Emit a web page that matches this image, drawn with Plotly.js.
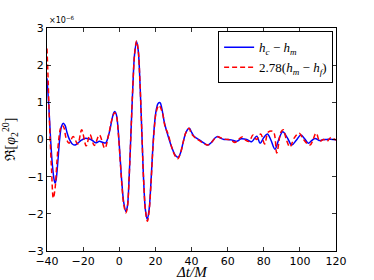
<!DOCTYPE html>
<html>
<head>
<meta charset="utf-8">
<script src="https://cdn.plot.ly/plotly-3.0.1.min.js"></script>
<style>html,body{margin:0;padding:0;background:#fff;}#chart{width:374px;height:280px;}</style>
</head>
<body>
<div id="chart"></div>
<script>
// h_c - h_m (units of 1e-6)
const blueT = [-40,-39,-38,-37,-36,-35.5,-35,-34,-33,-32,-31,-30,-29,-28,-27,-26,-24.5,-23,-21,-19,-17,-15,-13,-11,-9,-7.5,-6,-5,-4,-3,-2.3,-1.5,-0.5,0.5,1.5,2.5,3.7,4.5,5.5,6.5,7.5,8.5,9.6,10.5,11.5,12.5,13.5,14.5,15.5,16.5,17.5,18.5,19.5,20.5,21.5,22.6,23.5,25,27,29,31,32.7,34,35.5,37,38.8,40,41.5,43,45,47,49,51,53,54.5,56,58,60,62,65,67.5,70.6,73.3,76.1,78,80,82,84,86.2,88.3,90.5,93,95.5,98,100.5,102.5,104.7,106.5,108.4,111.2,113,114.9,117,120];
const blueV = [1.65,0.9,0.0,-0.7,-1.1,-1.18,-1.1,-0.6,0.0,0.35,0.44,0.38,0.2,0.05,-0.05,-0.12,-0.15,-0.1,-0.02,0.03,0.02,-0.02,-0.09,-0.05,-0.08,-0.09,0.1,0.3,0.55,0.72,0.75,0.65,0.2,-0.5,-1.2,-1.7,-1.94,-1.8,-1.0,0.2,1.4,2.3,2.63,2.4,1.5,0.2,-1.1,-1.9,-2.15,-1.9,-1.2,-0.3,0.4,0.8,0.97,0.99,0.85,0.45,0.1,-0.2,-0.42,-0.48,-0.35,-0.05,0.2,0.3,0.2,0.08,0.03,-0.03,-0.1,-0.15,-0.08,0.04,0.08,0.04,0.0,0.0,-0.01,-0.05,0.02,0.0,-0.06,0.09,-0.1,0.05,0.15,-0.02,-0.26,0.0,0.21,0.05,-0.15,-0.02,0.12,0.03,-0.1,-0.03,0.03,-0.03,0.0,0.0,0.01,-0.01];
// 2.78 (h_m - h_f) (units of 1e-6)
const redT = [-40,-39.3,-38.5,-37.5,-36.5,-35.5,-34.5,-33.5,-32.5,-31.5,-30.5,-29.5,-27.8,-25.5,-23,-20.8,-18.3,-16.2,-13.8,-11,-8,-6,-4,-2.5,-1.5,-0.5,0.5,1.5,2.5,3.7,4.5,5.5,6.5,7.5,8.5,9.6,10.5,11.5,12.5,13.5,14.5,15.6,16.5,17.5,18.5,19.5,20.5,22,24,25.4,27,29,31,32.3,34,35.5,37,38.6,40,42,45,49,51,54,56,58,60,62,64,66,68,70,72,74,76,78.3,80.5,82.5,85.3,87.2,89.5,90.8,92.5,94.5,97,99.7,102,105.6,109,111,113,115,117,120];
const redV = [2.45,1.5,0.3,-0.8,-1.58,-1.3,-0.6,0.0,0.3,0.38,0.3,0.05,-0.1,0.08,-0.12,0.26,-0.17,0.13,-0.16,0.12,-0.24,0.1,0.55,0.72,0.62,0.15,-0.55,-1.25,-1.75,-1.97,-1.82,-1.0,0.2,1.4,2.3,2.65,2.4,1.5,0.2,-1.1,-1.9,-2.2,-1.95,-1.25,-0.35,0.35,0.75,0.92,0.7,0.34,0.15,-0.2,-0.45,-0.52,-0.35,-0.05,0.2,0.3,0.15,0.05,-0.05,-0.15,-0.08,0.07,0.05,0.01,0.0,-0.02,-0.08,0.0,0.07,-0.02,-0.05,0.12,0.0,0.15,-0.12,0.2,0.21,-0.36,0.2,0.26,0.0,-0.2,0.05,0.17,0.0,-0.15,0.17,-0.05,0.0,-0.05,0.05,-0.02,0.02];
const xTicks = [-40,-20,0,20,40,60,80,100,120];
const yTicks = [-3,-2,-1,0,1,2,3];
const blueName = '<i>h</i><sub><i>c</i></sub> − <i>h</i><sub><i>m</i></sub>';
const redName = '2.78(<i>h</i><sub><i>m</i></sub> − <i>h</i><sub><i>f</i></sub>)';

const traces = [
  {x: blueT, y: blueV, name: blueName, type: 'scatter', mode: 'lines',
   line: {color: '#0000ff', width: 1.5, shape: 'spline', smoothing: 1}},
  {x: redT, y: redV, name: redName, type: 'scatter', mode: 'lines',
   line: {color: '#ff0000', width: 1.5, dash: '5px,3px', shape: 'spline', smoothing: 1}}
];
const axisCommon = {
  showgrid: false, zeroline: false, showline: true, linecolor: '#000', linewidth: 1,
  mirror: 'allticks', ticks: 'inside', ticklen: 4, tickcolor: '#000', tickwidth: 0.8,
  tickfont: {family: 'DejaVu Sans', size: 11, color: '#000'}
};
const layout = {
  width: 374, height: 280,
  margin: {l: 47, r: 38, t: 28, b: 29},
  paper_bgcolor: '#fff', plot_bgcolor: '#fff',
  showlegend: true,
  legend: {x: 0.99, xanchor: 'right', y: 0.985, yanchor: 'top',
    bordercolor: '#000', borderwidth: 1, bgcolor: '#fff',
    font: {family: 'Liberation Serif', size: 13, color: '#000'},
    tracegroupgap: 0, itemwidth: 30},
  xaxis: Object.assign({}, axisCommon, {range: [-40, 120], tickvals: xTicks}),
  yaxis: Object.assign({}, axisCommon, {range: [-3, 3], tickvals: yTicks,
    title: {text: 'ℜ[<i>φ</i><sub>2</sub><sup>20</sup>]', font: {family: 'Liberation Serif', size: 14, color: '#000'}, standoff: 8}}),
  annotations: [
    {xref: 'paper', yref: 'paper', x: 0, y: 1, xanchor: 'left', yanchor: 'bottom',
     yshift: 1, showarrow: false, text: '×10<sup>−6</sup>',
     font: {family: 'DejaVu Sans', size: 8, color: '#000'}},
    {xref: 'paper', yref: 'paper', x: 0.5, y: 0, xanchor: 'center', yanchor: 'top',
     yshift: -12, borderpad: 0, showarrow: false, text: 'Δt/M',
     font: {family: 'Liberation Serif', size: 15, color: '#000', style: 'italic'}}
  ]
};
Plotly.newPlot('chart', traces, layout, {displayModeBar: false, staticPlot: true});
</script>
</body>
</html>
